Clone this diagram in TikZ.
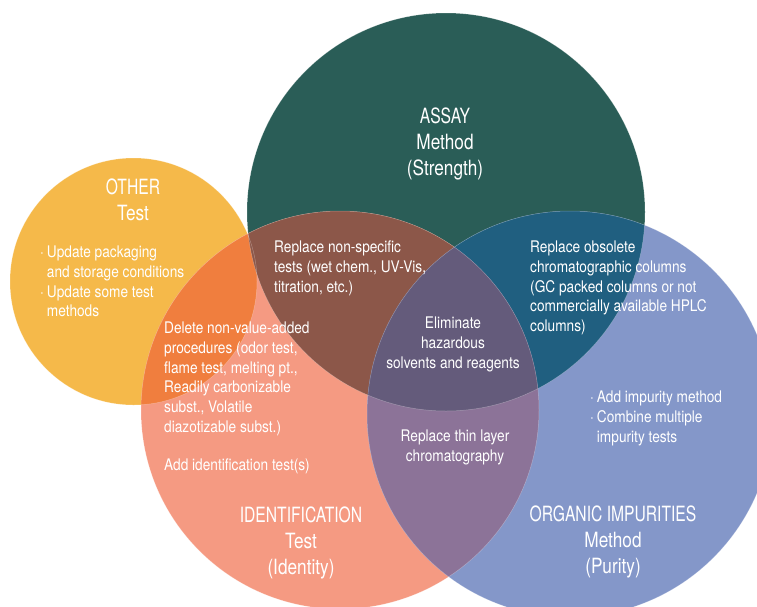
\documentclass[tikz,border=0pt]{standalone}
\usepackage{fontspec}
\setmainfont{TeX Gyre Heros}[FakeStretch=0.855]
\newfontfamily\headfont{TeX Gyre Heros}[FakeStretch=0.82]
\newfontfamily\headcaps{TeX Gyre Heros}[FakeStretch=0.745]
\usetikzlibrary{positioning}
\definecolor{assayC}{HTML}{2A5D57}
\definecolor{otherC}{HTML}{F5B94A}
\definecolor{identC}{HTML}{F59A82}
\definecolor{orgC}{HTML}{8497C9}
\definecolor{otherIdC}{HTML}{F07E3E}
\definecolor{assayIdC}{HTML}{8C5749}
\definecolor{assayOrgC}{HTML}{205F80}
\definecolor{idOrgC}{HTML}{8C7398}
\definecolor{allC}{HTML}{645B7B}
\tikzset{
  venn/title/.style={font=\headfont\fontsize{21}{25.7}\selectfont, text=white, align=center, inner sep=0pt, anchor=north},
  venn/body/.style={font=\fontsize{16}{19.7}\selectfont, text=white, align=left, inner sep=0pt, anchor=north west},
  venn/mid/.style={venn/body, align=center, anchor=north},
  venn/rim/.style={draw=white, draw opacity=0.3, line width=0.5pt}
}
\newcommand\dotitem{\hbox to 6.7pt{\textperiodcentered\hfil}}
\newcommand\dotskip{\hspace*{6.7pt}}

\begin{document}
\begin{tikzpicture}[x=1pt,y=-1pt]
  \useasboundingbox (0,0) rectangle (757,606);
  \clip (0,0) rectangle (757,606);
  \coordinate (cAssay) at (446,212);
  \coordinate (cOther) at (133.5,281.5);
  \coordinate (cIdent) at (340,410);
  \coordinate (cOrg) at (570,414);

  % the four sets
  \fill[otherC] (cOther) circle[radius=123.5pt];
  \fill[assayC] (cAssay) circle[radius=199pt];
  \fill[identC] (cIdent) circle[radius=199pt];
  \fill[orgC] (cOrg) circle[radius=203pt];

  % overlaps
  \begin{scope}
    \clip (cOther) circle[radius=123.5pt];
    \fill[otherIdC] (cIdent) circle[radius=199pt];
  \end{scope}
  \begin{scope}
    \clip (cAssay) circle[radius=199pt];
    \fill[assayIdC] (cIdent) circle[radius=199pt];
    \fill[assayOrgC] (cOrg) circle[radius=203pt];
  \end{scope}
  \begin{scope}
    \clip (cIdent) circle[radius=199pt];
    \fill[idOrgC] (cOrg) circle[radius=203pt];
    \clip (cOrg) circle[radius=203pt];
    \fill[allC] (cAssay) circle[radius=199pt];
  \end{scope}

  \draw[venn/rim] (cOther) circle[radius=123.5pt];
  \draw[venn/rim] (cAssay) circle[radius=199pt];
  \draw[venn/rim] (cIdent) circle[radius=199pt];
  \draw[venn/rim] (cOrg) circle[radius=203pt];

  % set titles
  \node[venn/title] (tAssay) at (445,108) {{\headcaps ASSAY}\\Method\\(Strength)};
  \node[venn/title] (tOther) at (133,179) {{\headcaps OTHER}\\Test};
  \node[venn/title] (tIdent) at (301,507) {{\headcaps IDENTIFICATION}\\Test\\(Identity)};
  \node[venn/title] (tOrg) at (613,506) {{\headcaps ORGANIC IMPURITIES}\\Method\\(Purity)};

  % entries
  \node[venn/body] (other) at (40,246) {\dotitem Update packaging\\\dotskip and storage conditions\\\dotitem Update some test\\\dotskip methods};
  \node[venn/body] (assayId) at (274,241) {Replace non-specific\\tests (wet chem., UV-Vis,\\titration, etc.)};
  \node[venn/body] (assayOrg) at (530,241) {Replace obsolete\\chromatographic columns\\(GC packed columns or not\\commercially available HPLC\\columns)};
  \node[venn/mid] (all) at (453,317) {Eliminate\\hazardous\\solvents and reagents};
  \node[venn/body] (otherId) at (164,322) {Delete non-value-added\\procedures (odor test,\\flame test, melting pt.,\\Readily carbonizable\\subst., Volatile\\diazotizable subst.)};
  \node[venn/body] (ident) at (164,459) {Add identification test(s)};
  \node[venn/body] (org) at (590,391) {\dotitem Add impurity method\\\dotitem Combine multiple\\\dotskip impurity tests};
  \node[venn/mid] (idOrg) at (455,430) {Replace thin layer\\chromatography};
\end{tikzpicture}
\end{document}
